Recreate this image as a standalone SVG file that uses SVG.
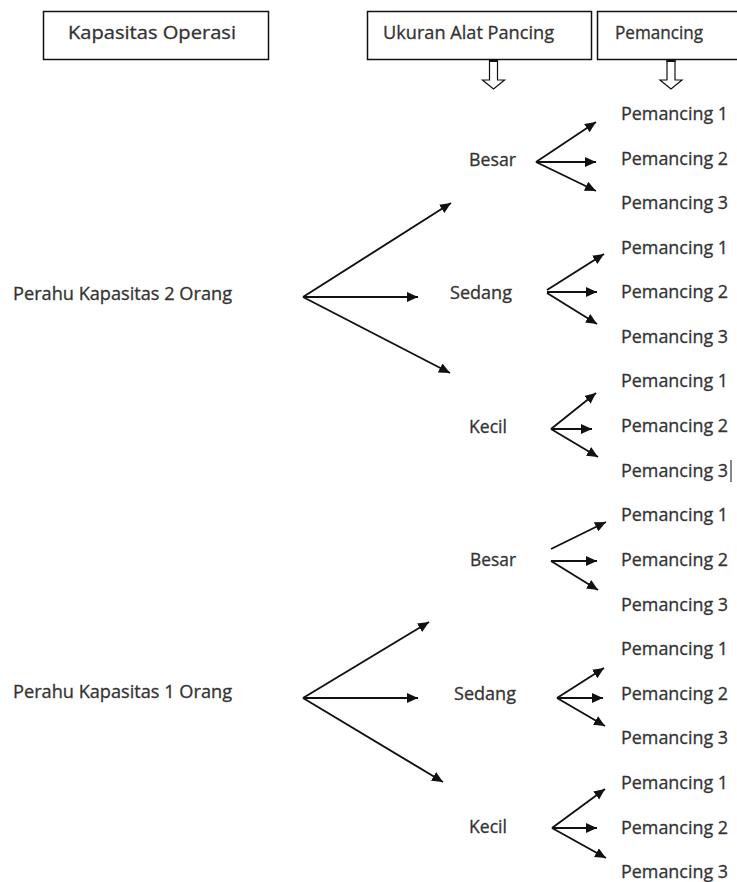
<svg xmlns="http://www.w3.org/2000/svg" width="737" height="882" viewBox="0 0 737 882">
<style>
text{font-family:"Open Sans","Liberation Sans",sans-serif;font-size:17.5px;fill:#333;stroke:#333;stroke-width:0.3}
.box{fill:#fff;stroke:#111;stroke-width:1.5}
.hol{fill:#fff;stroke:#111;stroke-width:1.2}
.c line{stroke:#111;stroke-width:1.9;marker-end:url(#ah)}
</style>
<defs>
<marker id="ah" markerUnits="userSpaceOnUse" markerWidth="13" markerHeight="11" refX="11" refY="5" orient="auto">
<path d="M0,0 L11,5 L0,10 z" fill="#111"/>
</marker>
</defs>
<rect width="737" height="882" fill="#fff"/>
<g id="hdr-kapasitas"><rect class="box" x="43.5" y="11.5" width="225" height="48"/><text x="68" y="39" textLength="168" lengthAdjust="spacingAndGlyphs">Kapasitas Operasi</text></g>
<g id="hdr-ukuran"><rect class="box" x="367.5" y="11.5" width="224" height="48"/><text x="383" y="39" textLength="171" lengthAdjust="spacingAndGlyphs">Ukuran Alat Pancing</text>
<path class="hol" d="M489.5,60 V80 H482.5 L493.5,89 L504.5,80 H497.5 V60 z"/><rect x="489" y="59" width="9" height="3" fill="#111"/></g>
<g id="hdr-pemancing"><rect class="box" x="597.5" y="11.5" width="145" height="48"/><text x="615" y="39" textLength="88" lengthAdjust="spacingAndGlyphs">Pemancing</text>
<path class="hol" d="M667,60 V80 H660 L671,89 L682,80 H675 V60 z"/><rect x="666.5" y="59" width="9" height="3" fill="#111"/></g>

<g id="perahu2"><text x="13" y="300" textLength="219" lengthAdjust="spacingAndGlyphs">Perahu Kapasitas 2 Orang</text></g>
<g id="perahu1"><text x="13" y="698" textLength="219" lengthAdjust="spacingAndGlyphs">Perahu Kapasitas 1 Orang</text></g>

<g id="besar-a"><text x="469" y="166" textLength="47" lengthAdjust="spacingAndGlyphs">Besar</text></g>
<g id="sedang-a"><text x="450" y="299" textLength="62" lengthAdjust="spacingAndGlyphs">Sedang</text></g>
<g id="kecil-a"><text x="469" y="433" textLength="38" lengthAdjust="spacingAndGlyphs">Kecil</text></g>
<g id="besar-b"><text x="470" y="566" textLength="46" lengthAdjust="spacingAndGlyphs">Besar</text></g>
<g id="sedang-b"><text x="454" y="700" textLength="62" lengthAdjust="spacingAndGlyphs">Sedang</text></g>
<g id="kecil-b"><text x="469" y="833" textLength="38" lengthAdjust="spacingAndGlyphs">Kecil</text></g>

<g id="pemancing-list">
<text x="621" y="120" textLength="107" lengthAdjust="spacingAndGlyphs">Pemancing 1</text>
<text x="621" y="165" textLength="107" lengthAdjust="spacingAndGlyphs">Pemancing 2</text>
<text x="621" y="209" textLength="107" lengthAdjust="spacingAndGlyphs">Pemancing 3</text>
<text x="621" y="254" textLength="107" lengthAdjust="spacingAndGlyphs">Pemancing 1</text>
<text x="621" y="298" textLength="107" lengthAdjust="spacingAndGlyphs">Pemancing 2</text>
<text x="621" y="343" textLength="107" lengthAdjust="spacingAndGlyphs">Pemancing 3</text>
<text x="621" y="387" textLength="107" lengthAdjust="spacingAndGlyphs">Pemancing 1</text>
<text x="621" y="432" textLength="107" lengthAdjust="spacingAndGlyphs">Pemancing 2</text>
<text x="621" y="477" textLength="107" lengthAdjust="spacingAndGlyphs">Pemancing 3</text>
<line x1="731" y1="460" x2="731" y2="482" stroke="#111" stroke-width="1"/>
<text x="621" y="521" textLength="107" lengthAdjust="spacingAndGlyphs">Pemancing 1</text>
<text x="621" y="566" textLength="107" lengthAdjust="spacingAndGlyphs">Pemancing 2</text>
<text x="621" y="611" textLength="107" lengthAdjust="spacingAndGlyphs">Pemancing 3</text>
<text x="621" y="655" textLength="107" lengthAdjust="spacingAndGlyphs">Pemancing 1</text>
<text x="621" y="700" textLength="107" lengthAdjust="spacingAndGlyphs">Pemancing 2</text>
<text x="621" y="744" textLength="107" lengthAdjust="spacingAndGlyphs">Pemancing 3</text>
<text x="621" y="789" textLength="107" lengthAdjust="spacingAndGlyphs">Pemancing 1</text>
<text x="621" y="834" textLength="107" lengthAdjust="spacingAndGlyphs">Pemancing 2</text>
<text x="621" y="878" textLength="107" lengthAdjust="spacingAndGlyphs">Pemancing 3</text>
</g>

<g id="connectors" class="c">
<line x1="303" y1="297" x2="451" y2="203"/>
<line x1="303" y1="297" x2="418" y2="297"/>
<line x1="303" y1="297" x2="450" y2="373"/>
<line x1="303" y1="698" x2="429" y2="622"/>
<line x1="303" y1="698" x2="418" y2="698"/>
<line x1="303" y1="698" x2="443" y2="782"/>

<line x1="536" y1="162" x2="596" y2="122"/>
<line x1="536" y1="162" x2="596" y2="162"/>
<line x1="536" y1="162" x2="596" y2="191"/>

<line x1="547" y1="290" x2="604" y2="254"/>
<line x1="547" y1="292" x2="597" y2="292"/>
<line x1="547" y1="293" x2="597" y2="324"/>

<line x1="551" y1="429" x2="596" y2="393"/>
<line x1="551" y1="429" x2="592" y2="429"/>
<line x1="551" y1="429" x2="598" y2="457"/>

<line x1="551" y1="549" x2="606" y2="522"/>
<line x1="551" y1="561" x2="597" y2="561"/>
<line x1="551" y1="561" x2="598" y2="590"/>

<line x1="557" y1="698" x2="604" y2="668"/>
<line x1="557" y1="698" x2="603" y2="698"/>
<line x1="557" y1="698" x2="605" y2="726"/>

<line x1="552" y1="828" x2="605" y2="789"/>
<line x1="552" y1="828" x2="597" y2="828"/>
<line x1="552" y1="828" x2="606" y2="858"/>
</g>
</svg>
